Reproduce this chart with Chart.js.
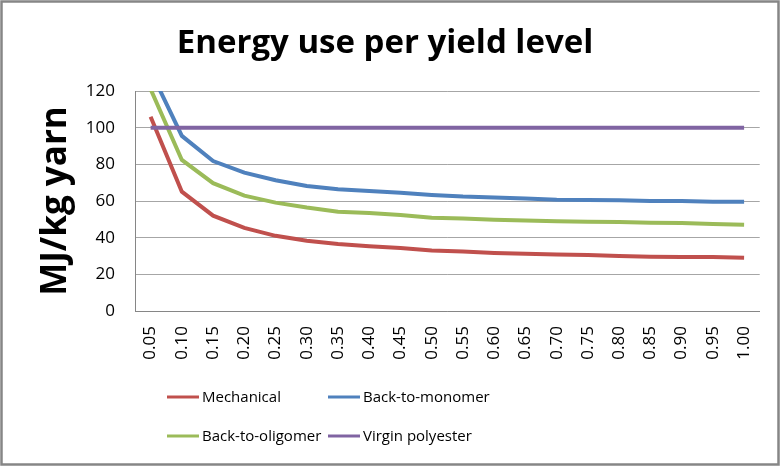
<!DOCTYPE html>
<html>
<head>
<meta charset="utf-8">
<script src="https://cdn.jsdelivr.net/npm/chart.js@4.4.0/dist/chart.umd.min.js"></script>
<style>
  html, body { margin: 0; padding: 0; background: #fff; }
  canvas { display: block; }
</style>
</head>
<body>
<canvas id="energy-chart" width="780" height="467"></canvas>
<script>
// yield levels on the x axis
const yieldLevels = ['0.05', '0.10', '0.15', '0.20', '0.25', '0.30', '0.35', '0.40', '0.45', '0.50',
                     '0.55', '0.60', '0.65', '0.70', '0.75', '0.80', '0.85', '0.90', '0.95', '1.00'];

// MJ per kg yarn
const mechanical     = [106, 65.1, 52, 45.3, 41, 38.3, 36.5, 35.3, 34.3, 33, 32.4, 31.7, 31.2, 30.8, 30.5, 30, 29.6, 29.5, 29.4, 29.1];
const backToMonomer  = [131, 95.5, 81.8, 75.5, 71.3, 68.2, 66.4, 65.4, 64.5, 63.3, 62.4, 61.9, 61.3, 60.7, 60.5, 60.4, 60, 60, 59.6, 59.6];
const backToOligomer = [121, 82.4, 69.7, 62.9, 59.1, 56.4, 54.2, 53.5, 52.4, 50.9, 50.4, 49.8, 49.3, 48.9, 48.7, 48.5, 48.2, 48, 47.5, 47.1];
const virginPolyester = Array(yieldLevels.length).fill(100);

const yTicks = { min: 0, max: 120, step: 20 };

const SERIES_COLORS = {
    mechanical: '#C0504D',
    monomer: '#4F81BD',
    oligomer: '#9BBB59',
    virgin: '#8064A2',
};

const FONT = '"Open Sans", "DejaVu Sans", sans-serif';

// Excel-style frame round the whole picture
const chartFrame = {
    id: 'chartFrame',
    beforeDraw(chart) {
        const { ctx, width, height } = chart;
        ctx.save();
        ctx.fillStyle = '#fff';
        ctx.fillRect(0, 0, width, height);
        ctx.strokeStyle = '#868686';
        ctx.lineWidth = 2.5;
        ctx.strokeRect(1.5, 1.5, width - 3, height - 4);
        ctx.restore();
    },
};

// legend in two rows of two, like the original
const twoRowLegend = {
    id: 'twoRowLegend',
    afterDraw(chart) {
        const { ctx, chartArea } = chart;
        const cols = [167, 328];
        const rows = [chartArea.bottom + 86, chartArea.bottom + 125];
        ctx.save();
        ctx.font = '15px ' + FONT;
        ctx.textBaseline = 'middle';
        ctx.fillStyle = '#000';
        chart.data.datasets.forEach((ds, i) => {
            const x = cols[i % 2];
            const y = rows[Math.floor(i / 2)];
            ctx.strokeStyle = ds.borderColor;
            ctx.lineWidth = 3;
            ctx.beginPath();
            ctx.moveTo(x, y);
            ctx.lineTo(x + 32, y);
            ctx.stroke();
            ctx.fillText(ds.label, x + 35, y + 1);
        });
        ctx.restore();
    },
};

const line = (label, data, color, order) => ({
    label,
    data,
    borderColor: color,
    backgroundColor: color,
    borderWidth: 4,
    tension: 0,
    pointRadius: 0,
    order,
    clip: 0,
});

new Chart(document.getElementById('energy-chart'), {
    type: 'line',
    data: {
        labels: yieldLevels,
        datasets: [
            line('Mechanical', mechanical, SERIES_COLORS.mechanical, 3),
            line('Back-to-monomer', backToMonomer, SERIES_COLORS.monomer, 2),
            line('Back-to-oligomer', backToOligomer, SERIES_COLORS.oligomer, 1),
            line('Virgin polyester', virginPolyester, SERIES_COLORS.virgin, 0),
        ],
    },
    options: {
        responsive: false,
        animation: false,
        layout: { padding: { left: 10, right: 20, top: 0, bottom: 86 } },
        scales: {
            x: {
                offset: true,
                grid: { display: false, drawTicks: false, offset: true },
                border: { color: '#868686', width: 1 },
                ticks: {
                    color: '#000',
                    font: { family: FONT, size: 17 },
                    minRotation: 90,
                    maxRotation: 90,
                    autoSkip: false,
                    padding: 15,
                },
                afterFit: (scale) => { scale.height = 70; },
            },
            y: {
                min: yTicks.min,
                max: yTicks.max,
                grid: { color: '#a6a6a6', drawTicks: false },
                border: { color: '#868686', width: 1 },
                ticks: {
                    stepSize: yTicks.step,
                    color: '#000',
                    font: { family: FONT, size: 17 },
                    padding: 20,
                },
                title: {
                    display: true,
                    text: 'MJ/kg yarn',
                    color: '#000',
                    font: { family: FONT, size: 35, weight: 'bold' },
                    padding: { top: 25, bottom: 0 },
                },
                afterFit: (scale) => { scale.width = 125; },
            },
        },
        plugins: {
            title: {
                display: true,
                text: 'Energy use per yield level',
                color: '#000',
                font: { family: FONT, size: 33, weight: 'bold' },
                padding: { top: 24, bottom: 27.4 },
            },
            legend: { display: false },
            tooltip: { enabled: false },
        },
    },
    plugins: [chartFrame, twoRowLegend],
});
</script>
</body>
</html>
